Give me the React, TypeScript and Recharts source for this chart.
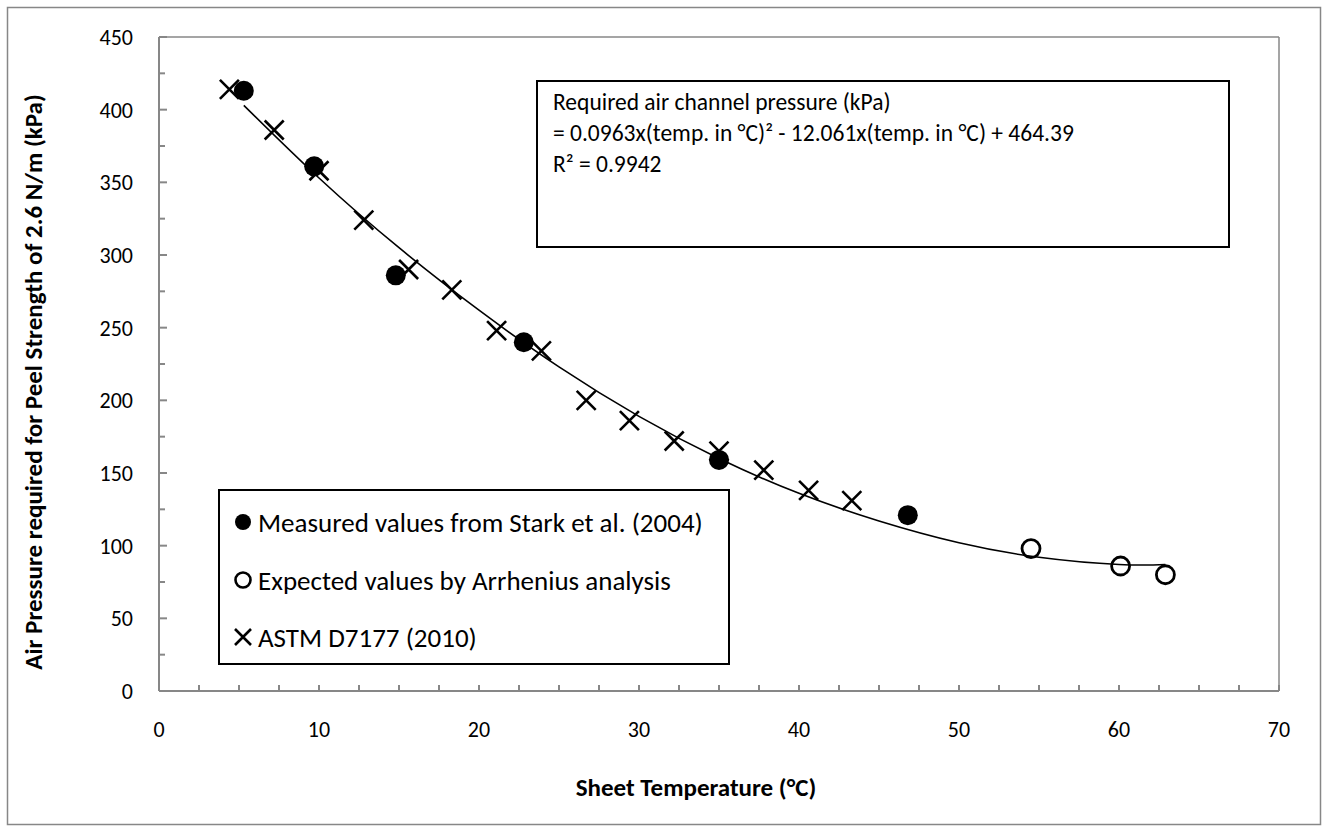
import React from "react";
import { ComposedChart, Scatter, Line, XAxis, YAxis } from "recharts";

// Peel strength chart: measured (Stark 2004), expected (Arrhenius), ASTM D7177 + quadratic trendline
const starkTemp = [5.3, 9.7, 14.8, 22.8, 35.0, 46.8];
const starkPressure = [413, 361, 286, 240, 159, 121];

const arrheniusTemp = [54.5, 60.1, 62.9];
const arrheniusPressure = [98, 86, 80];

const astmTemp = [4.4, 7.2, 10.0, 12.8, 15.6, 18.3, 21.1, 23.9, 26.7, 29.4, 32.2, 35.0, 37.8, 40.6, 43.3];
const astmPressure = [414, 386, 358, 324, 290, 276, 248, 234, 200, 186, 172, 165, 152, 138, 131];

// trendline
const trendTemp = [5.3, 10, 15, 20, 25, 30, 35, 40, 45, 50, 55, 60, 62.9];
const trendPressure = [403, 353, 305, 262, 223, 189, 160, 136, 117, 102, 92, 87, 87];

const xTicks = [0, 2.5, 5, 7.5, 10, 12.5, 15, 17.5, 20, 22.5, 25, 27.5, 30, 32.5, 35, 37.5, 40, 42.5, 45, 47.5, 50, 52.5, 55, 57.5, 60, 62.5, 65, 67.5, 70];
const yTicks = [0, 25, 50, 75, 100, 125, 150, 175, 200, 225, 250, 275, 300, 325, 350, 375, 400, 425, 450];

const legendLabels = [
  "Measured values from Stark et al. (2004)",
  "Expected values by Arrhenius analysis",
  "ASTM D7177 (2010)",
];
const equationLines = [
  "Required air channel pressure (kPa)",
  "= 0.0963x(temp. in °C)² - 12.061x(temp. in °C) + 464.39",
  "R² = 0.9942",
];

const FONT = "Carlito, Calibri, Lato, sans-serif";
const AXIS = "#878787";

const pts = (xs: number[], ys: number[]) => xs.map((x, i) => ({ x, y: ys[i] }));

const FilledDot = (p: any) => <circle cx={p.cx} cy={p.cy} r={10} fill="#000" />;
const OpenDot = (p: any) => <circle cx={p.cx} cy={p.cy} r={9} fill="none" stroke="#000" strokeWidth={2.8} />;
const Cross = (p: any) => (
  <path
    d={`M${p.cx - 9.5},${p.cy - 9.5}L${p.cx + 9.5},${p.cy + 9.5}M${p.cx - 9.5},${p.cy + 9.5}L${p.cx + 9.5},${p.cy - 9.5}`}
    stroke="#000"
    strokeWidth={2.6}
  />
);

function XTick(props: any) {
  const { x, y, payload } = props;
  const v = payload.value;
  return (
    <g>
      <line x1={x} x2={x} y1={y} y2={y - 6} stroke={AXIS} strokeWidth={2} />
      {v % 10 === 0 && (
        <text x={x} y={y + 46} textAnchor="middle" fontFamily={FONT} fontSize={22} fill="#000">
          {v}
        </text>
      )}
    </g>
  );
}

function YTick(props: any) {
  const { x, y, payload } = props;
  const v = payload.value;
  const major = v % 50 === 0;
  return (
    <g>
      <line x1={x} x2={x + (major ? 8 : 6)} y1={y} y2={y} stroke={AXIS} strokeWidth={2} />
      {major && (
        <text x={x - 26} y={y + 8} textAnchor="end" fontFamily={FONT} fontSize={22} fill="#000">
          {v}
        </text>
      )}
    </g>
  );
}

export default function App() {
  return (
    <div style={{ position: "absolute", left: 0, top: 0, width: 1328, height: 832, background: "#fff" }}>
      <ComposedChart width={1328} height={832} margin={{ top: 37, right: 49, bottom: 81, left: 100 }}>
        <XAxis
          type="number"
          dataKey="x"
          domain={[0, 70]}
          ticks={xTicks}
          interval={0}
          height={60}
          tickSize={0}
          tickMargin={0}
          tickLine={false}
          axisLine={{ stroke: AXIS, strokeWidth: 2 }}
          tick={<XTick />}
        />
        <YAxis
          type="number"
          dataKey="y"
          domain={[0, 450]}
          ticks={yTicks}
          interval={0}
          width={59}
          tickSize={0}
          tickMargin={0}
          tickLine={false}
          axisLine={{ stroke: AXIS, strokeWidth: 2 }}
          tick={<YTick />}
        />
        <Line
          data={pts(trendTemp, trendPressure)}
          dataKey="y"
          type="natural"
          dot={false}
          stroke="#000"
          strokeWidth={1.6}
          isAnimationActive={false}
        />
        <Scatter data={pts(starkTemp, starkPressure)} dataKey="y" shape={FilledDot} isAnimationActive={false} />
        <Scatter data={pts(arrheniusTemp, arrheniusPressure)} dataKey="y" shape={OpenDot} isAnimationActive={false} />
        <Scatter data={pts(astmTemp, astmPressure)} dataKey="y" shape={Cross} isAnimationActive={false} />
      </ComposedChart>

      <svg
        width={1328}
        height={832}
        style={{ position: "absolute", left: 0, top: 0, pointerEvents: "none" }}
        fontFamily={FONT}
      >
        <rect x={7.5} y={7.5} width={1313} height={817} fill="none" stroke={AXIS} strokeWidth={1.5} />
        <line x1={159} x2={1279} y1={37} y2={37} stroke={AXIS} strokeWidth={1.5} />
        <line x1={1279} x2={1279} y1={37} y2={691} stroke={AXIS} strokeWidth={1.5} />

        {/* equation box */}
        <rect x={537} y={81} width={692} height={166} fill="#fff" stroke="#000" strokeWidth={2} />
        {equationLines.map((t, i) => (
          <text key={i} x={553} y={110 + i * 31} fontSize={23.5} fill="#000">
            {t}
          </text>
        ))}

        {/* legend */}
        <rect x={219} y={490} width={510} height={174} fill="#fff" stroke="#000" strokeWidth={2} />
        <circle cx={243} cy={522} r={8} fill="#000" />
        <circle cx={243} cy={580} r={7.5} fill="none" stroke="#000" strokeWidth={2.6} />
        <path d="M235,629L251,645M235,645L251,629" stroke="#000" strokeWidth={2.6} />
        {legendLabels.map((t, i) => (
          <text key={i} x={258} y={[532, 590, 647][i]} fontSize={27} fill="#000">
            {t}
          </text>
        ))}

        {/* axis titles */}
        <text x={696} y={796} textAnchor="middle" fontSize={25} fontWeight="bold" fill="#000">
          Sheet Temperature (°C)
        </text>
        <text
          x={0}
          y={0}
          transform="translate(42,382) rotate(-90)"
          textAnchor="middle"
          fontSize={25}
          fontWeight="bold"
          fill="#000"
        >
          Air Pressure required for Peel Strength of 2.6 N/m (kPa)
        </text>
      </svg>
    </div>
  );
}
